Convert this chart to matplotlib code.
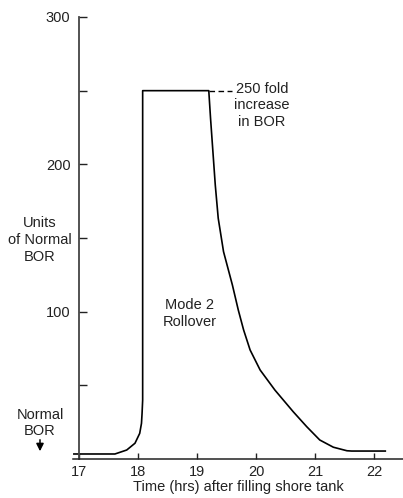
import numpy as np
import matplotlib
matplotlib.use('Agg')
import matplotlib.pyplot as plt

plt.rcParams['font.family'] = ['Liberation Sans', 'DejaVu Sans']

# curve (time in hrs, units of normal BOR)
time_hrs = [16.915, 17.61, 17.81, 17.95, 18.03, 18.06, 18.07, 18.08, 18.08,
            19.20, 19.23, 19.27, 19.31, 19.36, 19.45, 19.60, 19.70,
            19.79, 19.90, 20.07, 20.32, 20.63, 20.86, 21.08, 21.31,
            21.54, 21.62, 22.19]
bor_units = [3.4, 3.4, 6.1, 10.7, 17.4, 24.2, 31.0, 40.0, 250,
             250, 231.2, 208.6, 186.0, 163.4, 140.7, 118.1, 101.1,
             87.6, 74.0, 60.4, 46.8, 32.1, 21.9, 12.9, 8.0,
             5.6, 5.4, 5.4]
dash_time = [19.20, 19.59]
dash_val = [250, 250]

x_ticks = [17, 18, 19, 20, 21, 22]
y_ticks = [50, 100, 150, 200, 250, 300]
y_labels = ['', '100', '', '200', '', '300']

fig = plt.figure(figsize=(4.03, 4.98), dpi=100)
ax = fig.add_axes([73/403, 1-459/498, 330/403, 442/498])

ax.plot(time_hrs, bor_units, color='black', linewidth=1.2, solid_joinstyle='round')
ax.plot(dash_time, dash_val, color='black', linewidth=1.0, linestyle=(0, (4, 2.5)))

ax.set_xlim(16.90, 22.49)
ax.set_ylim(0, 300)
for s in ['top', 'right']:
    ax.spines[s].set_visible(False)
ax.spines['left'].set_position(('data', 17))
ax.spines['left'].set_bounds(0, 300)
ax.spines['left'].set_color('#444444')
ax.spines['left'].set_linewidth(1.3)
ax.spines['bottom'].set_color('#222222')
ax.spines['bottom'].set_linewidth(1.1)

ax.set_xticks(x_ticks)
ax.set_yticks(y_ticks)
ax.set_yticklabels(y_labels)
ax.tick_params(axis='y', direction='in', length=6, width=1, pad=6, labelsize=10.5, colors='#222222')
ax.tick_params(axis='x', direction='in', length=4.5, width=1, pad=4, labelsize=10.5, colors='#222222')
ax.set_xlabel('Time (hrs) after filling shore tank', fontsize=10.5, labelpad=1, color='#222222')

fig.text(40/403, 1-240/498, 'Units\nof Normal\nBOR', ha='center', va='center',
         fontsize=10.5, linespacing=1.25, color='#222222')
fig.text(40/403, 1-423/498, 'Normal\nBOR', ha='center', va='center',
         fontsize=10.5, linespacing=1.25, color='#222222')
ax.annotate('', xy=(40/403, 1-454/498), xytext=(40/403, 1-437/498),
            xycoords='figure fraction', textcoords='figure fraction',
            arrowprops=dict(arrowstyle='-|>', color='black', lw=1.1, mutation_scale=11))

ax.text(18.88, 99, 'Mode 2\nRollover', ha='center', va='center',
        fontsize=10.5, linespacing=1.25, color='#222222')
ax.text(20.1, 240, '250 fold\nincrease\nin BOR', ha='center', va='center',
        fontsize=10.5, linespacing=1.2, color='#222222')

fig.savefig('out.png', dpi=100)
